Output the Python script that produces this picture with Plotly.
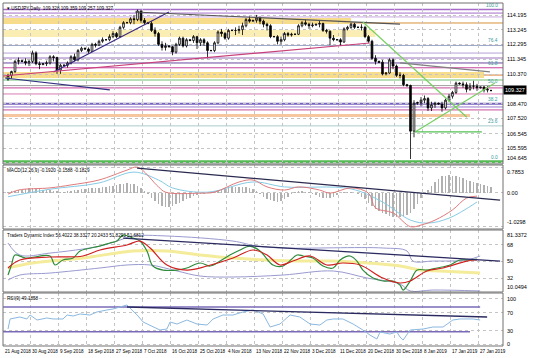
import plotly.graph_objects as go

# ---------------- data ----------------
tick_labels = ["21 Aug 2018", "30 Aug 2018", "9 Sep 2018", "18 Sep 2018", "27 Sep 2018",
               "7 Oct 2018", "16 Oct 2018", "25 Oct 2018", "4 Nov 2018", "13 Nov 2018",
               "22 Nov 2018", "3 Dec 2018", "11 Dec 2018", "20 Dec 2018", "30 Dec 2018",
               "8 Jan 2019", "17 Jan 2019", "27 Jan 2019"]
tick_bars = [-1.4, 6.3, 14.3, 22.3, 30.3, 38.3, 46.3, 54.3, 62.3, 70.3, 78.3, 86.3,
             94.3, 102.3, 110.3, 118.3, 126.3, 134.3]

opens = [110.05,110.30,110.55,111.20,111.25,111.20,111.10,111.20,111.75,111.05,
         111.00,111.05,111.10,111.50,111.45,110.65,110.95,110.95,111.10,111.50,
         111.30,111.90,112.05,112.00,111.85,112.30,112.25,112.50,112.60,112.60,
         112.80,113.00,112.80,113.40,113.70,113.70,113.95,113.90,114.45,113.85,
         113.70,113.65,113.20,113.00,112.30,112.10,112.20,112.15,111.80,112.30,
         112.70,112.20,112.60,112.55,112.80,112.40,112.60,112.40,111.90,111.90,
         112.40,113.10,113.00,112.70,113.20,113.20,113.20,113.25,113.50,113.90,
         113.80,113.85,114.00,113.80,113.60,113.50,112.80,112.80,112.50,112.60,
         113.00,112.90,112.95,112.95,113.50,113.70,113.60,113.50,113.55,113.60,
         113.65,113.20,113.15,112.70,112.60,112.60,112.45,113.30,113.40,113.60,
         113.40,113.40,113.40,112.80,112.50,111.40,111.20,111.15,110.40,110.45,
         111.30,110.90,110.30,110.30,109.70,109.65,106.70,108.50,108.55,108.70,
         108.80,108.20,108.40,108.50,108.45,108.20,108.70,108.95,109.20,109.80,
         109.75,109.70,109.40,109.60,109.60,109.50,109.55,109.35,109.328]
highs = [110.40,110.60,111.30,111.45,111.30,111.40,111.30,111.90,111.85,111.20,
         111.10,111.25,111.60,111.60,111.50,111.05,111.00,111.20,111.60,111.70,
         112.00,112.15,112.10,112.10,112.40,112.40,112.60,112.75,112.65,112.95,
         113.15,113.10,113.50,113.80,113.75,114.05,114.20,114.55,114.50,114.00,
         113.75,113.80,113.40,113.10,112.50,112.40,112.25,112.20,112.40,112.80,
         112.80,112.70,112.65,112.90,112.85,112.70,112.70,112.50,111.95,112.50,
         113.20,113.30,113.10,113.30,113.25,113.40,113.50,113.70,114.00,114.10,
         113.85,114.20,114.10,113.90,113.70,113.60,112.85,112.90,112.80,113.10,
         113.10,113.05,113.00,113.60,113.80,113.90,113.70,113.70,113.60,113.85,
         113.70,113.30,113.20,112.90,112.65,112.70,113.40,113.50,113.70,113.70,
         113.45,113.60,113.50,112.90,112.60,111.60,111.25,111.30,110.50,111.40,
         111.40,111.00,110.50,110.40,109.75,109.70,108.70,108.60,108.90,109.00,
         108.90,108.60,108.60,108.55,108.60,108.80,109.10,109.30,109.90,109.85,
         109.90,109.85,109.80,109.95,109.75,109.55,109.60,109.60,109.359]
lows = [109.95,110.10,110.45,111.00,111.15,110.95,110.90,111.10,110.95,110.70,
        110.95,110.90,111.00,111.20,110.40,110.40,110.90,110.80,111.00,111.20,
        111.20,111.80,111.95,111.70,111.80,112.10,112.20,112.40,112.55,112.50,
        112.70,112.70,112.75,113.30,113.65,113.60,113.60,113.80,113.70,113.60,
        113.60,113.10,112.80,112.20,111.90,111.90,112.10,111.60,111.70,112.20,
        112.10,112.10,112.50,112.40,112.00,112.20,112.20,111.40,111.85,111.80,
        112.30,112.80,112.60,112.60,113.15,112.90,113.00,112.90,113.40,113.70,
        113.75,113.70,113.60,113.40,113.20,112.70,112.75,112.30,112.30,112.50,
        112.80,112.80,112.90,112.90,113.40,113.50,113.30,113.40,113.50,113.40,
        113.10,113.00,112.25,112.50,112.55,112.20,112.40,113.20,113.30,113.30,
        113.35,113.20,112.70,112.40,111.30,111.00,111.10,110.30,110.30,110.40,
        110.70,110.20,110.10,109.60,109.55,104.90,106.30,108.40,108.30,108.50,
        108.00,108.00,108.20,108.40,107.95,108.10,108.60,108.80,109.10,109.70,
        109.50,109.20,109.30,109.40,109.30,109.45,109.20,109.20,109.257]
closes = [110.30,110.55,111.20,111.25,111.20,111.10,111.20,111.75,111.05,111.00,
          111.05,111.10,111.50,111.45,110.65,110.95,110.95,111.10,111.50,111.30,
          111.90,112.05,112.00,111.85,112.30,112.25,112.50,112.60,112.60,112.80,
          113.00,112.80,113.40,113.70,113.70,113.95,113.90,114.45,113.85,113.70,
          113.65,113.20,113.00,112.30,112.10,112.20,112.15,111.80,112.30,112.70,
          112.20,112.60,112.55,112.80,112.40,112.60,112.40,111.90,111.90,112.40,
          113.10,113.00,112.70,113.20,113.20,113.20,113.25,113.50,113.90,113.80,
          113.85,114.00,113.80,113.60,113.50,112.80,112.80,112.50,112.60,113.00,
          112.90,112.95,112.95,113.50,113.70,113.60,113.50,113.55,113.60,113.65,
          113.20,113.15,112.70,112.60,112.60,112.45,113.30,113.40,113.60,113.40,
          113.40,113.40,112.80,112.50,111.40,111.20,111.15,110.40,110.45,111.30,
          110.90,110.30,110.30,109.70,109.65,106.70,108.50,108.55,108.70,108.80,
          108.20,108.40,108.50,108.45,108.20,108.70,108.95,109.20,109.80,109.75,
          109.70,109.40,109.60,109.60,109.50,109.55,109.35,109.40,109.327]
bars = list(range(len(closes)))

price_ticks = [114.195, 113.245, 112.295, 111.345, 110.370, 108.470, 107.520, 106.545, 105.595, 104.645]
last_price = 109.327

# Fibonacci retracement (0 -> 100)
fib_prices = [104.72, 107.04, 108.47, 109.64, 110.79, 112.23, 114.55]
fib_names = ["0.0", "23.6", "38.2", "50.0", "61.8", "76.4", "100.0"]

# other horizontal levels (price)
level_prices = [114.32, 114.07, 113.68, 111.74, 111.42, 111.10, 110.32, 110.00, 109.49, 109.10, 108.26, 108.07]
# zones (low, high, last bar)
zone_low = [113.61, 112.78, 110.13, 107.62]
zone_high = [114.00, 113.23, 110.52, 107.81]
zone_end = [98, 105, 136, 132]

# trend lines (bar, price) -> (bar, price)
trend_x0 = [13, 36.3, -1.4, -0.9, 101.4, 116.3, 116.3, 112.0]
trend_y0 = [110.52, 114.39, 110.26, 110.13, 113.74, 106.65, 106.65, 111.10]
trend_x1 = [46, 112.0, 103.4, 29.1, 131.1, 139.1, 135.4, 137.7]
trend_y1 = [114.39, 113.61, 112.39, 109.36, 107.60, 109.81, 106.65, 110.52]

# MACD
macd_hist = [0.04,0.05,0.06,0.08, 0.10,0.12,0.14,0.14,0.13,0.12, 0.10,0.09,0.08,0.07,0.05,
             0.04,0.04,0.05,0.06,0.08, 0.10,0.12,0.13,0.14,0.15,0.16,0.16,0.17,0.18,
             0.20,0.22,0.24,0.26,0.28,0.29,0.28,0.26,0.22, 0.15,0.05,-0.05,
             -0.15,-0.25,-0.35,-0.40,-0.42, -0.42,-0.40,-0.35,-0.30,-0.25,
             -0.20,-0.15,-0.10,-0.08,-0.05,-0.03, 0.00,0.03,0.06,0.10,
             0.12,0.15,0.17,0.18,0.19,0.19,0.18,0.17,0.15,0.12, 0.05,-0.05,-0.12,-0.18,
             -0.22,-0.26,-0.27,-0.25,-0.20,-0.12, -0.05,0.02,0.05,0.06,0.04,0.02,
             -0.03,-0.08,-0.12,-0.15,-0.17,-0.16,-0.12, -0.06,-0.02,0.01,0.02,0.01,0.00,
             -0.05,-0.12,-0.20,-0.30,-0.40,-0.48,-0.55,
             -0.60,-0.65,-0.70,-0.72,-0.73,-0.72,-0.70,-0.68,
             -0.62,-0.50,-0.35,-0.15,0.00, 0.10,0.20,0.32,0.42,0.50,0.52,0.53,
             0.52,0.50,0.47,0.45,0.40,0.36,0.33, 0.30,0.28,0.25,0.22,0.19]
macd_main_x = [0,3,12,18,26,34,37,43,45,55,59,66,70,74,79,83,89,92,98,103,105,110,115,118,122,127,131,134]
macd_main_y = [-0.04,0.085,0.15,0.24,0.39,0.69,0.78,0.18,0.02,-0.01,0.02,0.33,0.39,0.18,0.085,0.18,
               0.085,-0.01,0.15,-0.01,-0.46,-0.61,-1.03,-0.98,-0.83,-0.52,-0.16,-0.10]
macd_sig_x = [0,12,26,36,43,47,57,70,79,98,107,115,120,126,134]
macd_sig_y = [-0.12,0.11,0.30,0.63,0.39,0.15,0.02,0.33,0.18,0.12,-0.28,-0.83,-0.92,-0.77,-0.28]
macd_trend = ([36.9, 140.6], [0.75, -0.22])
macd_ticks = [0.7853, 0.0, -1.0298]
macd_tick_text = ["0.7853", "0.00", "-1.0298"]

# Traders Dynamic Index
tdi_green_x = [0,1,2,5,12,13.4,15.7,18.6,20.6,26.3,29.1,31.1,32.9,35.7,37.7,39.7,41.4,44.3,48.3,51.1,
               54.9,57.7,60.6,63.4,66.3,69.1,72,75.7,78.6,82.6,84.3,87.1,90,92.9,94.9,97.7,99.7,
               101.4,104.3,107.1,110,112,112.9,114.9,116.9,119.7,122.6,126.3,129.1,132,134]
tdi_green_y = [35.5,46.2,56.8,53.6,55.8,46.2,51.5,53.6,61.1,66.4,69.6,71.7,78.1,74.9,71.7,61.1,45.1,
               40.8,40.8,43.0,48.3,45.1,50.4,56.8,62.2,66.4,61.1,46.2,45.1,56.8,55.8,53.6,45.1,43.0,
               51.5,55.8,50.4,40.8,32.3,29.1,29.1,24.8,19.5,29.1,40.8,40.8,43.0,46.2,51.5,51.5,52.6]
tdi_red_x = [0,3.4,12,21.4,26.3,34,37.7,40.6,45.4,51.1,56.9,64.3,70,74,77.7,81.4,86.3,91.1,95.7,
             100.6,107.1,112,114.9,119.7,124.3,131.1,134]
tdi_red_y = [43.0,51.5,54.7,55.8,62.2,67.5,71.7,64.3,46.2,40.8,45.1,53.6,62.2,56.8,46.2,50.4,55.8,
             46.2,48.3,46.2,32.3,27.0,29.1,39.8,43.0,50.4,51.5]
tdi_yellow_x = [0,7.1,21.4,35.7,45.4,54.9,64.3,74,83.4,92.9,102.6,112,117.7,123.4,134.9]
tdi_yellow_y = [43.0,48.3,53.6,61.1,61.1,56.8,53.6,51.5,50.4,50.4,48.3,45.1,40.8,39.8,37.6]
tdi_up_x = [0,3.4,12,26.3,32,35.7,45.4,64.3,71.1,78.6,107.1,114,115.7,121.4,131.1,134.9]
tdi_up_y = [69.6,56.8,58.9,66.4,72.8,77.1,77.1,71.7,66.4,64.3,64.3,61.1,50.4,50.4,51.5,55.8]
tdi_lo_x = [0,3.4,12,26.3,34,40.6,48.3,54.9,64.3,78.6,92.9,102.6,112,114.9,121.4,134.9]
tdi_lo_y = [30.2,35.5,37.6,43.0,46.2,46.2,39.8,34.4,33.4,35.5,39.8,32.3,25.9,18.5,19.5,18.5]
tdi_trend = ([32.9, 140.6], [74.9, 50.4])
tdi_ticks = [68, 50, 32]

# RSI
rsi_x = [0,0.6,3.4,5.4,6.3,8.3,11.1,12.9,15.7,16.9,18.6,20.6,23.4,25.4,28.3,30,32,34,35.4,36.9,
         38.6,41.4,43.4,45.4,46.3,48.3,51.1,54,56.9,58.6,61.4,64.3,67.1,70,72.9,74.9,77.7,80.6,
         83.4,86.3,89.1,91.1,92.9,95.7,98.6,101.4,103.4,105.4,106.3,109.1,111.1,112,112.9,114.9,
         118.6,121.4,124.3,127.1,129.1,132.9,134.9]
rsi_y = [33.3,55.6,60,55.6,64.4,53.3,57.8,55.6,55.6,64.4,62.2,66.7,64.4,71.1,75.6,77.8,82.2,86.7,
         75.6,64.4,48.9,37.8,31.1,33.3,48.9,44.4,53.3,44.4,42.2,55.6,64.4,64.4,71.1,75.6,66.7,37.8,
         44.4,64.4,60,44.4,42.2,53.3,55.6,55.6,44.4,31.1,20,11.1,26.7,22.2,26.7,15.6,8.9,31.1,
         33.3,37.8,37.8,53.3,55.6,55.6,53.3]
rsi_levels = [82, 27]
rsi_level_end = [134.9, 132.0]
rsi_trend = ([34, 136.9], [82.2, 60])
rsi_ticks = [100, 70, 30, 0]

# ---------------- figure ----------------
W, H = 536, 358
ML, MR, MT, MB = 3, 33, 3, 12
PH = H - MT - MB

def dom(top_px, bot_px):
    return [(H - MB - bot_px) / PH, (H - MB - top_px) / PH]

d_main = dom(3, 164)
d_macd = dom(165, 229)
d_tdi = dom(230, 292)
d_rsi = dom(293, 346)

FONT = "Liberation Sans"
GRID = "#c4c4c4"
AXF = dict(family=FONT, size=5.5, color="black")

fig = go.Figure()

fig.add_trace(go.Candlestick(
    x=bars, open=opens, high=highs, low=lows, close=closes,
    xaxis="x", yaxis="y", whiskerwidth=0,
    increasing=dict(line=dict(color="black", width=0.8), fillcolor="white"),
    decreasing=dict(line=dict(color="black", width=0.8), fillcolor="black"),
    showlegend=False, hoverinfo="skip"))

# MACD
fig.add_trace(go.Bar(x=bars, y=macd_hist, xaxis="x2", yaxis="y2", width=0.4,
                     marker=dict(color="#b0b0b0", line=dict(width=0)), showlegend=False, hoverinfo="skip"))
fig.add_trace(go.Scatter(x=macd_sig_x, y=macd_sig_y, xaxis="x2", yaxis="y2", mode="lines",
                         line=dict(color="#86cbe6", width=1, shape="spline"), showlegend=False))
fig.add_trace(go.Scatter(x=macd_main_x, y=macd_main_y, xaxis="x2", yaxis="y2", mode="lines",
                         line=dict(color="#e07a7a", width=1, shape="spline"), showlegend=False))
fig.add_trace(go.Scatter(x=macd_trend[0], y=macd_trend[1], xaxis="x2", yaxis="y2", mode="lines",
                         line=dict(color="#2a2a50", width=1.3), showlegend=False))

# TDI
fig.add_trace(go.Scatter(x=tdi_yellow_x, y=tdi_yellow_y, xaxis="x3", yaxis="y3", mode="lines",
                         line=dict(color="#f4ec9a", width=3, shape="spline"), showlegend=False))
fig.add_trace(go.Scatter(x=tdi_up_x, y=tdi_up_y, xaxis="x3", yaxis="y3", mode="lines",
                         line=dict(color="#9a9ad0", width=1, shape="spline"), showlegend=False))
fig.add_trace(go.Scatter(x=tdi_lo_x, y=tdi_lo_y, xaxis="x3", yaxis="y3", mode="lines",
                         line=dict(color="#9a9ad0", width=1, shape="spline"), showlegend=False))
fig.add_trace(go.Scatter(x=tdi_green_x, y=tdi_green_y, xaxis="x3", yaxis="y3", mode="lines",
                         line=dict(color="#2e8b3a", width=1.2, shape="spline"), showlegend=False))
fig.add_trace(go.Scatter(x=tdi_red_x, y=tdi_red_y, xaxis="x3", yaxis="y3", mode="lines",
                         line=dict(color="#d02020", width=1.2, shape="spline"), showlegend=False))
fig.add_trace(go.Scatter(x=tdi_trend[0], y=tdi_trend[1], xaxis="x3", yaxis="y3", mode="lines",
                         line=dict(color="#2a2a60", width=1.3), showlegend=False))

# RSI
for lv, le in zip(rsi_levels, rsi_level_end):
    fig.add_trace(go.Scatter(x=[-1.4, le], y=[lv, lv], xaxis="x4", yaxis="y4", mode="lines",
                             line=dict(color="#7a6ab8", width=1.5), showlegend=False))
fig.add_trace(go.Scatter(x=rsi_x, y=rsi_y, xaxis="x4", yaxis="y4", mode="lines",
                         line=dict(color="#8ab8e0", width=1), showlegend=False))
fig.add_trace(go.Scatter(x=rsi_trend[0], y=rsi_trend[1], xaxis="x4", yaxis="y4", mode="lines",
                         line=dict(color="#2a2a60", width=1.3), showlegend=False))

shapes = []
zone_colors = ["#f7dc8c", "#fbeeb4", "#f7dc8c", "#f6c69e"]
for lo, hi, e, c in zip(zone_low, zone_high, zone_end, zone_colors):
    shapes.append(dict(type="rect", xref="x", yref="y", x0=-1.43, x1=e, y0=lo, y1=hi,
                       fillcolor=c, line=dict(width=0), layer="below"))
level_colors = ["#a46cc8", "#c9a8e0", "#d9903a", "#b8a0d8", "#9a70c0", "#6a4aa0",
                "#e08030", "#70c070", "#c8449a", "#d77ab0", "#9a7ad0", "#c8509a"]
for p, c in zip(level_prices, level_colors):
    shapes.append(dict(type="line", xref="paper", yref="y", x0=0, x1=1, y0=p, y1=p,
                       line=dict(color=c, width=1), layer="below"))
fib_colors = ["#55bb55", "#a8cccc", "#7a62c0", "#a0a0a0", "#c8449a", "#9aa6c8", "#a46cc8"]
fib_widths = [3, 1, 2, 1, 1, 1, 1.5]
for p, c, w in zip(fib_prices, fib_colors, fib_widths):
    shapes.append(dict(type="line", xref="paper", yref="y", x0=0, x1=1, y0=p, y1=p,
                       line=dict(color=c, width=w), layer="below"))
trend_colors = ["#3a2a80", "#555555", "#c8407a", "#303080", "#77d060", "#77d060", "#55c055", "#808080"]
for x0, y0, x1, y1, c in zip(trend_x0, trend_y0, trend_x1, trend_y1, trend_colors):
    shapes.append(dict(type="line", xref="x", yref="y", x0=x0, x1=x1, y0=y0, y1=y1,
                       line=dict(color=c, width=1.2)))
for d in (d_main, d_macd, d_tdi, d_rsi):
    shapes.append(dict(type="rect", xref="paper", yref="paper", x0=0, x1=1, y0=d[0], y1=d[1],
                       line=dict(color="#707070", width=1), fillcolor="rgba(0,0,0,0)"))

annotations = []
small = dict(family=FONT, size=4.6, color="black")
for d, txt in ((d_main, "\u25be USDJPY,Daily  109.328 109.359 109.257 109.327"),
               (d_macd, "MACD(12,26,9) -0.1920 -0.1588 -0.1829"),
               (d_tdi, "Traders Dynamic Index 56.4022 38.3327 20.2433 51.8293 51.6812"),
               (d_rsi, "RSI(9) 49.1858")):
    annotations.append(dict(xref="paper", yref="paper", x=0.004, y=d[1] - 0.004, xanchor="left",
                            yanchor="top", showarrow=False, text=txt, font=small))
for p, n in zip(fib_prices, fib_names):
    annotations.append(dict(xref="x", yref="y", x=140.5, y=p, xanchor="right", yanchor="bottom",
                            showarrow=False, text=n, font=dict(family=FONT, size=4.8, color="#3a9a9a")))

def right_label(yref, v, txt, anchor="middle"):
    annotations.append(dict(xref="paper", yref=yref, x=1.0, y=v, xanchor="left", yanchor=anchor,
                            xshift=2, showarrow=False, text=txt, font=AXF))

for v in price_ticks:
    right_label("y", v, f"{v:.3f}", "bottom" if v == price_ticks[-1] else "middle")
for v, t in zip(macd_ticks, macd_tick_text):
    right_label("y2", v, t, "top" if v == macd_ticks[0] else ("bottom" if v == macd_ticks[-1] else "middle"))
right_label("y3 domain", 1, "81.3372", "top")
for v in tdi_ticks:
    right_label("y3", v, str(v))
right_label("y3 domain", 0, "10.0494", "bottom")
for v in rsi_ticks:
    right_label("y4", v, str(v), "middle")
annotations.append(dict(xref="paper", yref="y", x=1.0, y=last_price, xanchor="left", yanchor="middle",
                        showarrow=False, text=f"{last_price:.3f}", bgcolor="black",
                        font=dict(family=FONT, size=5.5, color="white"), borderpad=1))
for b, t in zip(tick_bars, tick_labels):
    annotations.append(dict(xref="x4", yref="paper", x=max(b, -1.4), y=0, xanchor="left", yanchor="top",
                            yshift=-1, showarrow=False, text=t,
                            font=dict(family=FONT, size=4.6, color="black")))

xcommon = dict(range=[-1.43, 141.43], tickvals=tick_bars, showgrid=True, gridcolor=GRID,
               griddash="dot", gridwidth=1, zeroline=False, showticklabels=False, ticks="",
               showline=False, fixedrange=True)
ycommon = dict(side="right", showgrid=True, gridcolor=GRID, griddash="dot", gridwidth=1,
               zeroline=False, ticks="", showticklabels=False, showline=False, fixedrange=True)

fig.update_layout(
    width=W, height=H, margin=dict(l=ML, r=MR, t=MT, b=MB),
    paper_bgcolor="white", plot_bgcolor="white", showlegend=False, bargap=0,
    hovermode=False,
    shapes=shapes, annotations=annotations,
    xaxis=dict(xcommon, domain=[0, 1], anchor="y", rangeslider=dict(visible=False)),
    xaxis2=dict(xcommon, domain=[0, 1], anchor="y2", matches="x"),
    xaxis3=dict(xcommon, domain=[0, 1], anchor="y3", matches="x"),
    xaxis4=dict(xcommon, domain=[0, 1], anchor="y4", matches="x"),
    yaxis=dict(ycommon, domain=d_main, range=[104.58, 114.97], tickvals=price_ticks, anchor="x"),
    yaxis2=dict(ycommon, domain=d_macd, range=[-1.100, 0.846], tickvals=macd_ticks, anchor="x2"),
    yaxis3=dict(ycommon, domain=d_tdi, range=[17.4, 83.5], tickvals=tdi_ticks, anchor="x3"),
    yaxis4=dict(ycommon, domain=d_rsi, range=[-4.4, 113.3], tickvals=rsi_ticks, anchor="x4"),
)

fig.write_html("out.html", config={"displayModeBar": False, "staticPlot": True},
               post_script="document.body.style.margin='0';document.body.style.padding='0';")
